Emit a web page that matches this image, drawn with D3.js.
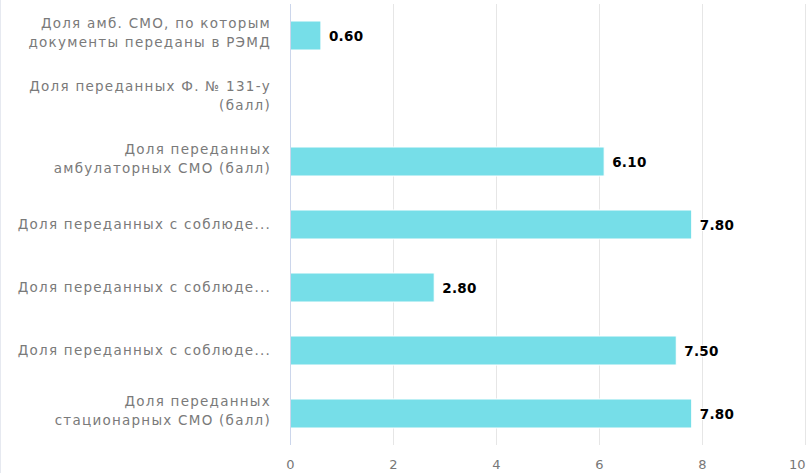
<!DOCTYPE html>
<html><head><meta charset="utf-8">
<script src="https://cdn.jsdelivr.net/npm/d3@7"></script>
<style>body{margin:0;background:#fff;}svg{display:block;}</style>
</head><body>
<svg id="c" width="806" height="473"></svg>
<script>
const categories = [
  "Доля амб. СМО, по которым\nдокументы переданы в РЭМД",
  "Доля переданных Ф. № 131-у\n(балл)",
  "Доля переданных\nамбулаторных СМО (балл)",
  "Доля переданных с соблюде...",
  "Доля переданных с соблюде...",
  "Доля переданных с соблюде...",
  "Доля переданных\nстационарных СМО (балл)"
];
const values = [0.6, null, 6.1, 7.8, 2.8, 7.5, 7.8];
const xTicks = [0, 2, 4, 6, 8, 10];

const svg = d3.select("#c");
const m = {left: 290, right: 805, top: 4, bottom: 445};
const x = d3.scaleLinear().domain([0, 10]).range([m.left, m.right]);
const y = d3.scaleBand().domain(d3.range(categories.length)).range([m.top, m.bottom]).paddingInner(0.55).paddingOuter(0.275);

svg.append("line").attr("x1",0.5).attr("x2",0.5).attr("y1",0).attr("y2",473).attr("stroke","#e6e9f0");

// grid
svg.append("g").selectAll("line").data(xTicks.slice(1)).join("line")
  .attr("x1", d => Math.round(x(d)) + 0.5).attr("x2", d => Math.round(x(d)) + 0.5)
  .attr("y1", m.top).attr("y2", m.bottom).attr("stroke", "#e6e6e6");

// x axis labels
const xa = svg.append("g").attr("transform", `translate(0,${m.bottom})`)
  .call(d3.axisBottom(x).tickValues(xTicks).tickSize(0).tickPadding(15));
xa.select(".domain").remove();
xa.selectAll("text").attr("font-family","DejaVu Sans, sans-serif").attr("font-size",13).attr("fill","#777");
xa.selectAll(".tick").filter(d => d === 10).select("text").attr("text-anchor","end").attr("x", 805 - x(10));

// bars
const bw = y.bandwidth();
svg.append("g").selectAll("rect").data(values.map((v,i)=>({v,i})).filter(d=>d.v!=null)).join("rect")
  .attr("x", x(0))
  .attr("y", d => y(d.i) + bw/2 - 14.5)
  .attr("width", d => x(d.v) - x(0)).attr("height", 29)
  .attr("fill", "#76dee8").attr("stroke","#fff").attr("stroke-width",1);

// left axis line
svg.append("line").attr("x1", x(0)+0.5).attr("x2", x(0)+0.5).attr("y1", m.top).attr("y2", m.bottom).attr("stroke", "#ccd6eb");

// value labels
svg.append("g").selectAll("text").data(values.map((v,i)=>({v,i})).filter(d=>d.v!=null)).join("text")
  .attr("x", d => x(d.v) + 8).attr("y", d => y(d.i) + bw/2 + 1).attr("dy","0.36em")
  .attr("font-family","DejaVu Sans, sans-serif").attr("font-weight","bold").attr("font-size",13.5).attr("fill","#000")
  .attr("letter-spacing", 0.3)
  .attr("stroke","#fff").attr("stroke-width",2).attr("paint-order","stroke")
  .text(d => d3.format(".2f")(d.v));

// category labels
const cl = svg.append("g").selectAll("text").data(categories).join("text")
  .attr("x", 270).attr("text-anchor","end")
  .attr("font-family","DejaVu Sans, sans-serif").attr("font-size",13.5).attr("fill","#7a7a7a")
  .attr("letter-spacing", 1.25);
cl.each(function(d,i){
  const lines = d.split("\n");
  const cy = y(i) + bw/2 - (lines.length>1 ? 3 : 0);
  const lh = 19;
  lines.forEach((t,k)=>{
    d3.select(this).append("tspan").attr("x",271)
      .attr("y", cy + (k - (lines.length-1)/2)*lh).attr("dy","0.36em").text(t);
  });
});
</script>
</body></html>
